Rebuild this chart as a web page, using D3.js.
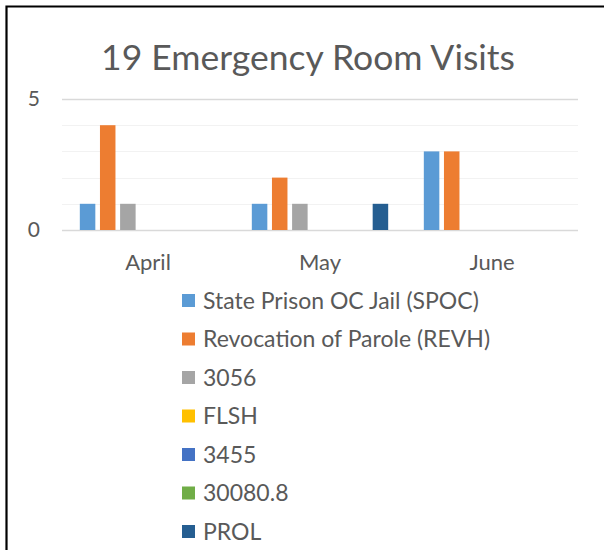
<!DOCTYPE html>
<html>
<head>
<meta charset="utf-8">
<script src="https://cdn.jsdelivr.net/npm/d3@7"></script>
<style>
body{margin:0;background:#fff}
text{font-family:Lato,"Open Sans",sans-serif;fill:#595959}
</style>
</head>
<body>
<div id="chart"></div>
<script>
var months = ["April","May","June"]
var seriesNames = ["State Prison OC Jail (SPOC)","Revocation of Parole (REVH)","3056","FLSH","3455","30080.8","PROL"]
var seriesColors = ["#5B9BD5","#ED7D31","#A5A5A5","#FFC000","#4472C4","#70AD47","#255E91"]
var spoc = [1,1,3]
var revh = [4,2,3]
var s3056 = [1,1,0]
var flsh = [0,0,0]
var s3455 = [0,0,0]
var s30080 = [0,0,0]
var prol = [0,1,0]
var yLabels = [0,5]
var title = "19 Emergency Room Visits"

var seriesValues = [spoc,revh,s3056,flsh,s3455,s30080,prol]

var width = 604
var height = 550
var plotLeft = 62, plotRight = 578, plotTop = 99, plotBottom = 230

var svg = d3.select("#chart").append("svg")
	.attr("width",width)
	.attr("height",height)

// frame (top and left edges only are visible in the capture)
svg.append("path")
	.attr("d","M6.5,550V6.5H604")
	.attr("fill","none")
	.attr("stroke","#000")
	.attr("stroke-width",2.2)

svg.append("text").text(title)
	.attr("x",308).attr("y",70)
	.attr("text-anchor","middle")
	.style("font-size","35.5px")

var yScale = d3.scaleLinear().domain([0,5]).range([plotBottom,plotTop])
var x0 = d3.scaleBand().domain(months).range([plotLeft,plotRight])
var groupWidth = 141
var x1 = d3.scaleBand().domain(seriesNames).range([0,groupWidth]).paddingInner(0.23).paddingOuter(0.115)
var groupOffset = (x0.bandwidth()-groupWidth)/2

// gridlines
svg.append("g").selectAll("line")
	.data(yScale.ticks(5))
	.enter().append("line")
	.attr("x1",plotLeft).attr("x2",plotRight)
	.attr("y1",function(d){return Math.round(yScale(d))+0.5})
	.attr("y2",function(d){return Math.round(yScale(d))+0.5})
	.attr("stroke",function(d){return yLabels.indexOf(d)>=0 ? "#D9D9D9" : "#F2F2F2"})
	.attr("stroke-width",function(d){return yLabels.indexOf(d)>=0 ? 1.4 : 1})

var yAxis = d3.axisLeft(yScale).tickValues(yLabels).tickFormat(d3.format("d")).tickSize(0).tickPadding(22)
var yG = svg.append("g").attr("transform","translate("+plotLeft+",0)").call(yAxis)
yG.select(".domain").remove()
yG.selectAll("text").style("font-size","21px").attr("fill","#595959")

var xAxis = d3.axisBottom(x0).tickSize(0).tickPadding(24)
var xG = svg.append("g").attr("transform","translate(0,"+plotBottom+")").call(xAxis)
xG.select(".domain").remove()
xG.selectAll("text").style("font-size","22px").attr("fill","#595959")

var bars = []
for(var s in seriesNames){
	for(var m in months){
		bars.push({series:seriesNames[s],color:seriesColors[s],month:months[m],value:seriesValues[s][m]})
	}
}

svg.append("g").selectAll("rect")
	.data(bars)
	.enter().append("rect")
	.attr("x",function(d){return x0(d.month)+groupOffset+x1(d.series)})
	.attr("y",function(d){return yScale(d.value)})
	.attr("width",x1.bandwidth())
	.attr("height",function(d){return yScale(0)-yScale(d.value)})
	.attr("fill",function(d){return d.color})

// legend
var legend = svg.append("g").attr("transform","translate(182,301)")
var items = legend.selectAll("g")
	.data(seriesNames)
	.enter().append("g")
	.attr("transform",function(d,i){return "translate(0,"+(i*38.5)+")"})
items.append("rect")
	.attr("x",0).attr("y",-7)
	.attr("width",13).attr("height",13)
	.attr("fill",function(d,i){return seriesColors[i]})
items.append("text").text(function(d){return d})
	.attr("x",21).attr("y",7.5)
	.style("font-size","23px")
</script>
</body>
</html>
